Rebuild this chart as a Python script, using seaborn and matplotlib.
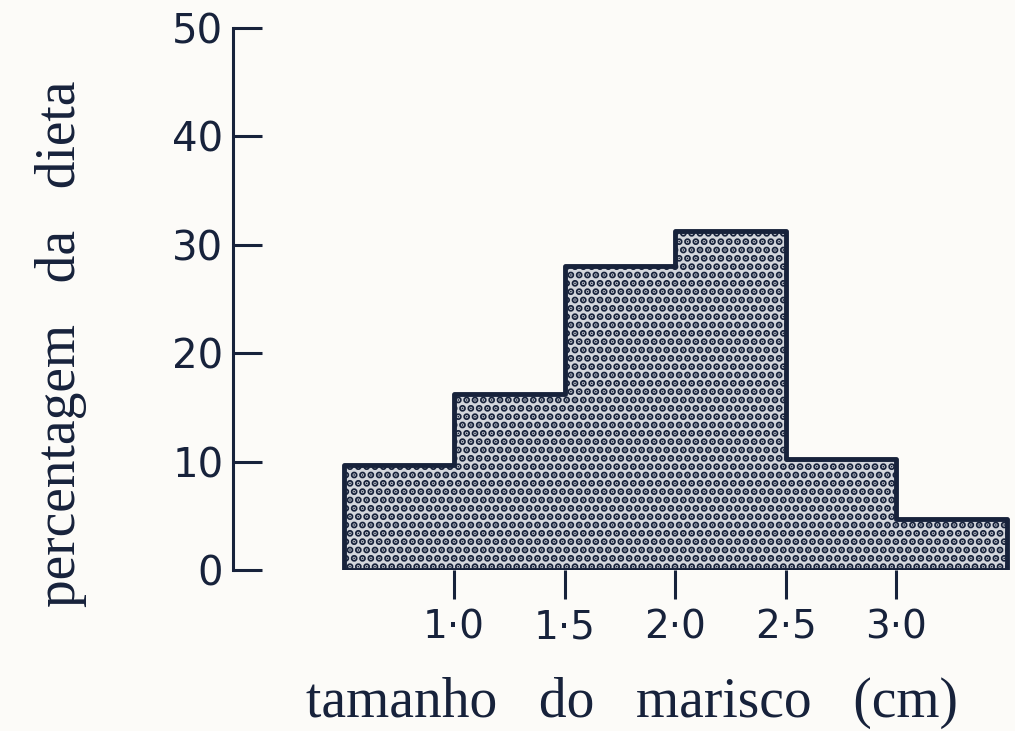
import matplotlib.pyplot as plt
import seaborn as sns

# Data
bin_edges = [0.5, 1.0, 1.5, 2.0, 2.5, 3.0, 3.5]
size_mid = [0.75, 1.25, 1.75, 2.25, 2.75, 3.25]
diet_pct = [9.7, 16.2, 28.0, 31.3, 10.2, 4.7]
x_ticks = [1.0, 1.5, 2.0, 2.5, 3.0]
x_ticklabels = ['1·0', '1·5', '2·0', '2·5', '3·0']
y_ticks = [0, 10, 20, 30, 40, 50]

ink = '#17223b'
paper = '#fcfbf8'

sns.set_style('ticks')
plt.rcParams['font.family'] = ['DejaVu Sans']
plt.rcParams['hatch.color'] = ink
plt.rcParams['hatch.linewidth'] = 3.6

fig = plt.figure(figsize=(10.15, 7.31), dpi=100, facecolor=paper)
ax = fig.add_axes([233 / 1015, 1 - 570 / 731, 785 / 1015, 542 / 731])
ax.set_facecolor(paper)

# histogram drawn as one stepped outline, filled with a dot screen
sns.histplot(x=size_mid, weights=diet_pct, bins=bin_edges, element='step',
             fill=True, color=ink, ax=ax)
for coll in ax.collections:
    coll.set_alpha(1)
    coll.set_facecolor('#d3d6dc')
    coll.set_edgecolor(ink)
    coll.set_linewidth(3.5)
    coll.set_hatch('..')

ax.set_xlim(0, 3.55)
ax.set_ylim(0, 50)
ax.set_xticks(x_ticks)
ax.set_xticklabels(x_ticklabels)
ax.set_yticks(y_ticks)

sns.despine(ax=ax, top=True, right=True, bottom=True)
ax.spines['left'].set_color(ink)
ax.spines['left'].set_linewidth(2.2)
ax.tick_params(axis='y', direction='in', length=21, width=2.2, color=ink,
               labelsize=29, labelcolor=ink, pad=7)
ax.tick_params(axis='x', direction='out', length=21, width=2.2, color=ink,
               labelsize=28, labelcolor=ink, pad=7)

ax.set_xlabel('tamanho   do   marisco   (cm)', fontsize=40, color=ink,
              family=['Liberation Serif'])
ax.xaxis.set_label_coords(0.508, -0.245)
ax.xaxis.label.set_va('center')
ax.set_ylabel('percentagem   da   dieta', fontsize=40, color=ink,
              family=['Liberation Serif'])
ax.yaxis.set_label_coords(-0.219, 0.417)
ax.yaxis.label.set_va('center')

fig.savefig('out.png', dpi=100, facecolor=paper)
